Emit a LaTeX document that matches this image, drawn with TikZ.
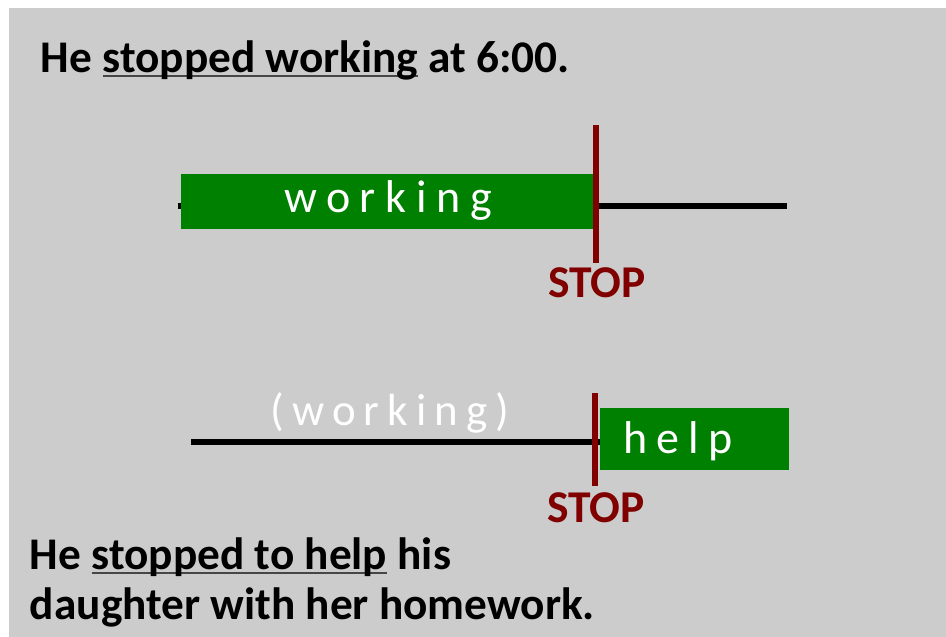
\documentclass[tikz,border=0pt]{standalone}
\usepackage{fontspec}
\setmainfont{Carlito}
\usetikzlibrary{positioning}
\definecolor{slidegray}{RGB}{204,204,204}
\definecolor{bargreen}{RGB}{0,128,0}
\definecolor{stopred}{RGB}{128,0,0}
\definecolor{ulgray}{RGB}{70,70,70}
\newlength\ulwd
\newcommand\ulword[1]{\settowidth\ulwd{#1}\rlap{\color{ulgray}\rule[-5pt]{\ulwd}{2.5pt}}#1}

\begin{document}
\begin{tikzpicture}[
    x=1pt, y=-1pt,
    every node/.style={inner sep=0pt, outer sep=0pt},
    sentence/.style={anchor=base west, font=\fontsize{45.3}{52}\selectfont\bfseries},
    bar/.style={fill=bargreen, anchor=north west},
    bartext/.style={anchor=base, text=white},
    stoplabel/.style={anchor=base, text=stopred,
        font=\fontsize{45.5}{52}\selectfont\bfseries},
    timeline/.style={line width=6pt, black},
    stopline/.style={line width=6pt, stopred}
]
\fill[white] (0,0) rectangle (946,637);
\fill[slidegray] (9,8) rectangle (946,637);
\useasboundingbox (0,0) rectangle (946,637);

% first example
\node[sentence] (s1) at (41,72) {He \ulword{stopped working} at 6:00.};
\coordinate (t1start) at (178,206);
\coordinate (t1end) at (787,206);
\draw[timeline] (t1start) -- (t1end);
\node[bar, minimum width=416pt, minimum height=55pt] (bar1) at (181,174) {};
\node[bartext, font={\fontsize{46}{52}\selectfont\addfontfeature{LetterSpace=21}}]
    (work1) at (388,212) {working};
\coordinate (stop1top) at (596,125);
\coordinate (stop1bot) at (596,263);
\draw[stopline] (stop1top) -- (stop1bot);
\node[stoplabel] (stop1) at (597,297) {STOP};

% second example
\coordinate (t2start) at (191,442);
\coordinate (t2end) at (600,442);
\draw[timeline] (t2start) -- (t2end);
\node[bartext, font={\fontsize{45}{52}\selectfont\addfontfeature{LetterSpace=18}}]
    (work2) at (390,425) {(working)};
\node[bar, minimum width=189pt, minimum height=62pt] (bar2) at (600,408) {};
\node[bartext, font={\fontsize{46}{52}\selectfont\addfontfeature{LetterSpace=20}}]
    (help) at (678,453) {help};
\coordinate (stop2top) at (595,393);
\coordinate (stop2bot) at (595,486);
\draw[stopline] (stop2top) -- (stop2bot);
\node[stoplabel] (stop2) at (596,522) {STOP};

\node[sentence] (s2a) at (30,569) {He \ulword{stopped to help} his};
\node[sentence] (s2b) at (30,619) {daughter with her homework.};
\end{tikzpicture}
\end{document}
